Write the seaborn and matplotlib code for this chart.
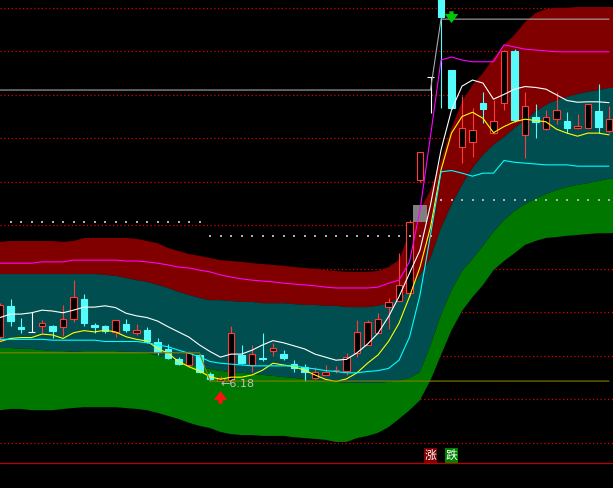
import numpy as np
import pandas as pd
import matplotlib
matplotlib.use('Agg')
import matplotlib.pyplot as plt
import seaborn as sns

# daily candles (price)
opens = [7.19, 7.91, 7.42, 7.30, 7.45, 7.45, 7.43, 7.60, 8.07, 7.47,
         7.45, 7.30, 7.50, 7.29, 7.35, 7.08, 6.92, 6.68, 6.55, 6.77,
         6.34, 6.19, 6.20, 6.79, 6.55, 6.71, 6.86, 6.80, 6.57, 6.50,
         6.24, 6.33, 6.43, 6.42, 6.83, 7.01, 7.29, 7.89, 8.03, 8.20,
         10.80, 13.18, 14.99, 13.33, 11.55, 11.68, 12.57, 11.88, 12.57, 13.77,
         11.84, 12.26, 11.97, 12.20, 12.16, 11.99, 12.00, 12.39, 11.94]
highs = [7.97, 8.07, 7.63, 7.77, 7.58, 7.48, 7.93, 8.50, 8.18, 7.52,
         7.47, 7.58, 7.60, 7.50, 7.42, 7.16, 7.03, 6.73, 6.88, 6.81,
         6.39, 6.30, 7.45, 7.01, 7.01, 7.29, 7.06, 6.89, 6.66, 6.57,
         6.51, 6.55, 6.53, 6.82, 7.58, 7.58, 7.75, 8.08, 9.12, 9.88,
         11.45, 13.18, 15.01, 13.34, 12.73, 12.45, 12.82, 12.64, 13.79, 13.81,
         12.83, 12.55, 12.41, 12.83, 12.36, 12.32, 12.55, 13.00, 12.50]
lows = [7.12, 7.45, 7.29, 7.30, 7.29, 7.18, 7.22, 7.54, 7.45, 7.29,
        7.29, 7.20, 7.31, 7.24, 7.05, 6.78, 6.68, 6.55, 6.51, 6.37,
        6.19, 6.18, 6.19, 6.58, 6.40, 6.63, 6.76, 6.66, 6.40, 6.19,
        6.23, 6.33, 6.37, 6.33, 6.74, 7.00, 7.28, 7.38, 8.02, 8.14,
        10.76, 12.34, 12.45, 12.44, 11.20, 11.32, 12.11, 11.87, 12.40, 12.14,
        11.31, 11.77, 11.95, 12.09, 11.88, 11.98, 11.99, 11.88, 11.88]
closes = [7.93, 7.56, 7.38, 7.30, 7.52, 7.33, 7.60, 8.11, 7.52, 7.42,
          7.33, 7.58, 7.35, 7.35, 7.09, 6.84, 6.70, 6.57, 6.82, 6.40,
          6.22, 6.24, 7.28, 6.60, 6.80, 6.68, 6.93, 6.70, 6.49, 6.39,
          6.38, 6.39, 6.44, 6.73, 7.31, 7.54, 7.60, 8.00, 8.39, 9.84,
          11.44, 13.18, 14.54, 12.45, 11.99, 11.95, 12.43, 12.16, 13.77, 12.18,
          12.50, 12.14, 12.24, 12.41, 12.00, 12.04, 12.54, 12.03, 12.20]

# indicator lines
upper_line = [8.89, 8.89, 8.89, 8.89, 8.92, 8.92, 8.92, 8.96, 8.96, 8.96,
              8.96, 8.96, 8.94, 8.94, 8.92, 8.89, 8.85, 8.80, 8.78, 8.73,
              8.69, 8.62, 8.57, 8.53, 8.50, 8.48, 8.46, 8.43, 8.41, 8.39,
              8.37, 8.34, 8.32, 8.32, 8.32, 8.32, 8.34, 8.43, 8.50, 8.92,
              10.11, 11.81, 13.56, 13.63, 13.56, 13.52, 13.52, 13.52, 13.91, 13.86,
              13.81, 13.79, 13.77, 13.75, 13.75, 13.75, 13.75, 13.75, 13.75]
mid_line = [7.64, 7.72, 7.72, 7.75, 7.81, 7.79, 7.75, 7.81, 7.88, 7.88,
            7.91, 7.87, 7.74, 7.68, 7.64, 7.56, 7.43, 7.31, 7.19, 7.01,
            6.86, 6.73, 6.80, 6.80, 6.89, 7.01, 7.11, 7.06, 6.99, 6.92,
            6.80, 6.73, 6.66, 6.68, 6.83, 7.03, 7.28, 7.66, 8.12, 8.66,
            9.19, 10.23, 11.49, 12.41, 12.96, 13.10, 13.03, 12.66, 12.77, 12.89,
            12.95, 12.93, 12.89, 12.76, 12.63, 12.59, 12.60, 12.60, 12.58]
ma_line = [7.09, 7.16, 7.18, 7.18, 7.26, 7.24, 7.16, 7.29, 7.34, 7.31,
           7.35, 7.31, 7.20, 7.14, 7.10, 6.93, 6.82, 6.63, 6.51, 6.41,
           6.28, 6.22, 6.27, 6.27, 6.32, 6.43, 6.59, 6.55, 6.51, 6.43,
           6.32, 6.22, 6.17, 6.23, 6.37, 6.59, 6.78, 7.09, 7.51, 8.12,
           8.80, 9.72, 11.03, 11.88, 12.26, 12.36, 12.22, 11.89, 12.03, 12.14,
           12.20, 12.17, 12.14, 11.97, 11.88, 11.81, 11.88, 11.88, 11.84]
lower_line = [7.14, 7.14, 7.14, 7.14, 7.14, 7.12, 7.12, 7.12, 7.12, 7.12,
              7.09, 7.09, 7.09, 7.09, 7.06, 7.01, 6.97, 6.89, 6.82, 6.74,
              6.63, 6.59, 6.57, 6.55, 6.53, 6.53, 6.53, 6.53, 6.53, 6.49,
              6.46, 6.42, 6.40, 6.37, 6.37, 6.40, 6.42, 6.47, 6.66, 7.19,
              8.16, 9.54, 10.99, 11.02, 10.96, 10.89, 10.96, 10.96, 11.25, 11.21,
              11.19, 11.17, 11.15, 11.15, 11.15, 11.12, 11.12, 11.12, 11.12]

# band edges, top to bottom
red_top = [9.38, 9.40, 9.40, 9.40, 9.40, 9.40, 9.38, 9.40, 9.47, 9.47,
           9.47, 9.47, 9.47, 9.45, 9.40, 9.35, 9.24, 9.17, 9.10, 9.06,
           9.01, 8.96, 8.94, 8.92, 8.89, 8.87, 8.85, 8.83, 8.80, 8.78,
           8.76, 8.73, 8.71, 8.69, 8.69, 8.69, 8.71, 8.80, 8.96, 9.61,
           10.11, 10.57, 11.26, 12.00, 12.60, 12.99, 13.26, 13.61, 13.91, 14.14,
           14.43, 14.64, 14.73, 14.76, 14.76, 14.78, 14.78, 14.78, 14.78]
teal_top = [8.64, 8.64, 8.64, 8.64, 8.64, 8.64, 8.64, 8.64, 8.64, 8.64,
            8.62, 8.60, 8.55, 8.50, 8.46, 8.39, 8.32, 8.23, 8.16, 8.09,
            8.04, 8.04, 8.02, 8.00, 8.00, 7.97, 7.97, 7.97, 7.95, 7.93,
            7.93, 7.91, 7.91, 7.88, 7.88, 7.88, 7.91, 7.97, 8.09, 8.27,
            8.62, 9.01, 9.70, 10.23, 10.69, 11.08, 11.38, 11.61, 11.79, 12.00,
            12.18, 12.37, 12.53, 12.64, 12.71, 12.78, 12.83, 12.87, 12.92]
green_top = [6.94, 6.94, 6.92, 6.92, 6.89, 6.87, 6.87, 6.85, 6.87, 6.87,
             6.87, 6.87, 6.85, 6.85, 6.83, 6.76, 6.71, 6.64, 6.57, 6.50,
             6.46, 6.41, 6.39, 6.37, 6.34, 6.32, 6.30, 6.27, 6.25, 6.23,
             6.20, 6.18, 6.16, 6.14, 6.14, 6.14, 6.14, 6.16, 6.20, 6.25,
             6.39, 7.00, 7.70, 8.27, 8.71, 8.99, 9.29, 9.61, 9.88, 10.09,
             10.25, 10.37, 10.48, 10.57, 10.64, 10.69, 10.73, 10.78, 10.83]
green_bottom = [5.51, 5.54, 5.54, 5.51, 5.51, 5.51, 5.54, 5.56, 5.58, 5.58,
                5.58, 5.58, 5.56, 5.54, 5.51, 5.45, 5.38, 5.31, 5.22, 5.15,
                5.10, 5.01, 4.96, 4.94, 4.94, 4.92, 4.92, 4.92, 4.89, 4.87,
                4.85, 4.83, 4.78, 4.78, 4.87, 4.92, 4.99, 5.12, 5.31, 5.51,
                5.74, 6.20, 6.78, 7.35, 7.79, 8.11, 8.39, 8.73, 8.94, 9.12,
                9.31, 9.40, 9.47, 9.49, 9.52, 9.54, 9.56, 9.58, 9.58]

# step levels
resist = [12.87] * 42 + [14.50] * 17
support = [6.83] * 20 + [6.18] * 39
stop_dots = [np.nan] + [9.83] * 19 + [9.51] * 22 + [10.34] * 17
gap_lo, gap_hi = 9.84, 10.23

grid_levels = [14.76, 13.76, 12.76, 11.76, 10.76, 9.76, 8.76, 7.76, 6.76, 5.76, 4.76]
panel_split = 4.30
tag_level = 4.47

RED = '#ff3c3c'
CYAN = '#54fcfc'

sns.set_theme(style='dark', rc={'axes.facecolor': 'black', 'figure.facecolor': 'black'})
plt.rcParams['font.family'] = ['DejaVu Sans', 'Noto Sans CJK SC']

fig = plt.figure(figsize=(6.13, 4.88), dpi=100)
ax = fig.add_axes([0, 0, 1, 1])
x_max = 613 / 10.5
y_lim = (3.722, 14.94)

idx = np.arange(len(opens))
o, h, l, c = map(np.array, (opens, highs, lows, closes))

# red dotted grid
for lv in grid_levels:
    ax.axhline(lv, color='#e00000', lw=0.9, ls=(0, (1, 2.0)), zorder=0)
ax.axhline(panel_split, color='#c00000', lw=0.9, zorder=0)

# bands
xb = np.append(idx, x_max)
ext = lambda v: np.append(v, v[-1])
ax.fill_between(xb, ext(teal_top), ext(red_top), color='#800000', lw=0, zorder=1)
ax.fill_between(xb, ext(green_top), ext(teal_top), color='#004e50', lw=0, zorder=1)
ax.fill_between(xb, ext(green_bottom), ext(green_top), color='#007800', lw=0, zorder=1)

# gap box
ax.fill_between([39.3, 40.7], gap_lo, gap_hi, color='#808080', lw=0, zorder=2)

# candles
up = c > o
down = c < o
flat = c == o
cols = np.where(up, RED, np.where(down, CYAN, 'white'))
ax.vlines(idx, l, h, colors=cols, lw=0.8, zorder=4)
ax.bar(idx[up], (c - o)[up], bottom=o[up], width=0.62, facecolor='black',
       edgecolor=RED, lw=0.8, zorder=5)
ax.bar(idx[down], (o - c)[down], bottom=c[down], width=0.62, color=CYAN,
       edgecolor=CYAN, lw=0.8, zorder=5)
ax.hlines(c[flat], idx[flat] - 0.33, idx[flat] + 0.33, colors='white', lw=0.8, zorder=5)

# indicator and level lines
lines = pd.DataFrame({'i': idx, 'upper': upper_line, 'mid': mid_line, 'ma': ma_line,
                      'lower': lower_line, 'resist': resist, 'support': support})
lines = lines.melt('i', var_name='line', value_name='price')
pal = {'upper': '#ff00ff', 'mid': '#ffffff', 'ma': '#ffff00', 'lower': '#00ffff',
       'resist': '#a8a8a8', 'support': '#808000'}
sns.lineplot(data=lines, x='i', y='price', hue='line', palette=pal, linewidth=0.8,
             estimator=None, legend=False, ax=ax, zorder=6)
sns.scatterplot(x=idx, y=stop_dots, marker='s', s=0.8, color='#b0b0b0', linewidth=0,
                ax=ax, zorder=6)

# high / low marks
lo_i = int(np.argmin(l))
hi_i = int(np.argmax(h))
arrow_style = 'simple,head_length=0.5,head_width=0.75,tail_width=0.24'
tip = l[lo_i] - 0.23
ax.annotate('', xy=(lo_i, tip), xytext=(lo_i, tip - 0.29),
            arrowprops=dict(arrowstyle=arrow_style, fc='#ff1010', ec='none', lw=0,
                            mutation_scale=13, shrinkA=0, shrinkB=0), zorder=7)
ax.annotate('', xy=(hi_i + 1, resist[-1] - 0.09), xytext=(hi_i + 1, resist[-1] + 0.18),
            arrowprops=dict(arrowstyle=arrow_style, fc='#00c800', ec='none', lw=0,
                            mutation_scale=13, shrinkA=0, shrinkB=0), zorder=7)
ax.text(lo_i + 0.02, l[lo_i] - 0.07, f'\u2190{l[lo_i]:.2f}', color='#c0c0c0',
        fontsize=8, ha='left', va='center', zorder=7)
ax.text(hi_i + 0.02, h[hi_i], f'\u2190{h[hi_i]:.2f}', color='#c0c0c0',
        fontsize=8, ha='left', va='center', zorder=7, clip_on=True)

ax.text(41, tag_level, '涨', color='white', fontsize=8.5, ha='center', va='center',
        family=['Noto Sans CJK SC', 'DejaVu Sans'], zorder=7,
        bbox=dict(boxstyle='square,pad=0.05', fc='#800000', ec='none'))
ax.text(43, tag_level, '跌', color='white', fontsize=8.5, ha='center', va='center',
        family=['Noto Sans CJK SC', 'DejaVu Sans'], zorder=7,
        bbox=dict(boxstyle='square,pad=0.05', fc='#008000', ec='none'))

ax.set_xlim(0, x_max)
ax.set_ylim(*y_lim)
ax.axis('off')

fig.savefig('out.png', dpi=100, facecolor='black')
